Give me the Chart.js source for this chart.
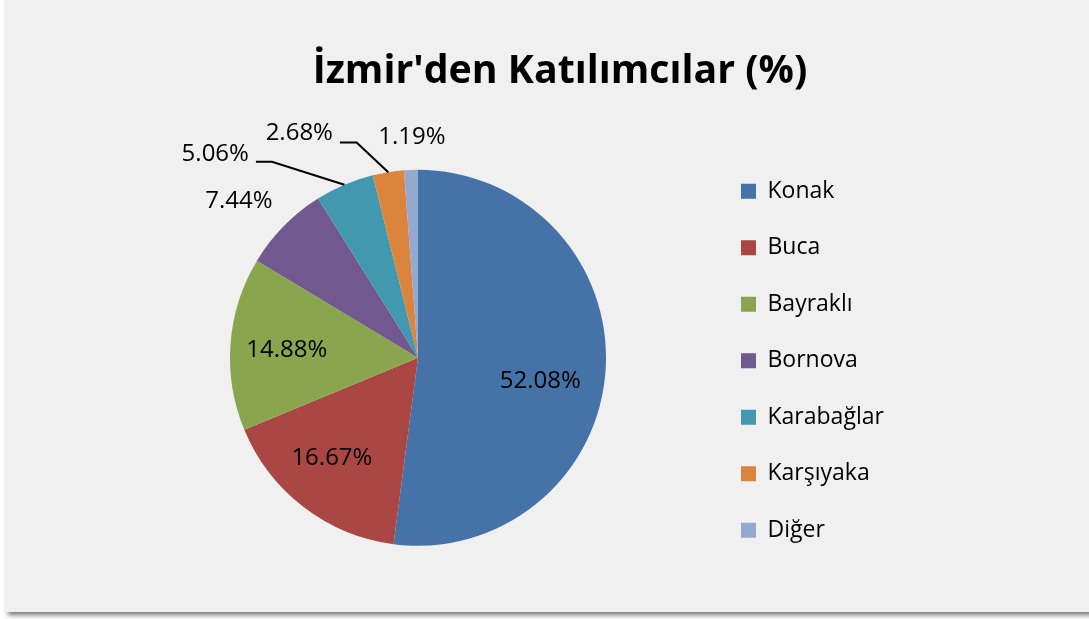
<!DOCTYPE html>
<html lang="tr">
<head>
<meta charset="utf-8">
<title>İzmir'den Katılımcılar (%)</title>
<script src="https://cdn.jsdelivr.net/npm/chart.js@4.4.1/dist/chart.umd.min.js"></script>
<style>
  html, body { margin: 0; padding: 0; background: #fff; overflow: hidden; }
  .panel { position: absolute; left: 5px; top: -10px; width: 1100px; height: 622px; background: #f0f0f0; box-shadow: 0 6px 5px -3px rgba(0, 0, 0, 0.55); }
  .chart-box { position: absolute; left: 5px; top: 0; width: 1084px; height: 612px; }
</style>
</head>
<body>
<div class="panel"></div>
<div class="chart-box"><canvas id="izmirPieChart"></canvas></div>
<script>
// Data
const districts = ['Konak', 'Buca', 'Bayraklı', 'Bornova', 'Karabağlar', 'Karşıyaka', 'Diğer'];
const shares = [52.08, 16.67, 14.88, 7.44, 5.06, 2.68, 1.19];
const sliceColors = ['#4572A7', '#AA4643', '#89A54E', '#71588F', '#4198AF', '#DB843D', '#93A9CF'];

// Where each percentage label sits, relative to the slice (r = fraction of radius)
const labelLayout = [
  { r: 0.70, dx: -9, dy: 15 },
  { r: 0.70, dx: -6, dy: -4 },
  { r: 0.70, dx: 0, dy: 2 },
  { r: 1, dx: -45, dy: -25 },
  { r: 1, leader: [-72.5, -23], tail: 16, dy: -8 },
  { r: 1, leader: [-31.6, -29.7], tail: 16.7, dy: -9 },
  { r: 1, dx: 1, dy: -33 }
];

// draws the % labels (inside / outside with leader lines)
const pieLabels = {
  id: 'pieLabels',
  afterDatasetsDraw(chart) {
    const ctx = chart.ctx;
    const meta = chart.getDatasetMeta(0);
    ctx.save();
    ctx.font = '24px "Open Sans"';
    ctx.fillStyle = '#000';
    ctx.strokeStyle = '#000';
    ctx.lineWidth = 2;
    ctx.textBaseline = 'middle';
    meta.data.forEach((arc, i) => {
      const { x, y, startAngle, endAngle, outerRadius } =
        arc.getProps(['x', 'y', 'startAngle', 'endAngle', 'outerRadius'], true);
      const mid = (startAngle + endAngle) / 2;
      const lay = labelLayout[i];
      const px = x + Math.cos(mid) * outerRadius * lay.r;
      const py = y + Math.sin(mid) * outerRadius * lay.r;
      const text = shares[i].toFixed(2) + '%';

      if (lay.leader) {
        const ex = px + lay.leader[0];
        const ey = py + lay.leader[1];
        ctx.beginPath();
        ctx.moveTo(px, py);
        ctx.lineTo(ex, ey);
        ctx.lineTo(ex - lay.tail, ey);
        ctx.stroke();
        ctx.textAlign = 'right';
        ctx.fillText(text, ex - lay.tail - 7, ey + lay.dy);
      } else {
        ctx.textAlign = 'center';
        ctx.fillText(text, px + lay.dx, py + lay.dy);
      }
    });
    ctx.restore();
  }
};

// fixed legend box width so the pie and title line up like the original
const legendWidth = {
  id: 'legendWidth',
  beforeUpdate(chart) {
    const lg = chart.legend;
    if (lg && !lg._widthPatched) {
      const fit = lg.fit;
      lg.fit = function () {
        fit.call(this);
        this.width = 284;
      };
      lg._widthPatched = true;
    }
  }
};

const ctx = document.getElementById('izmirPieChart').getContext('2d');
new Chart(ctx, {
  type: 'pie',
  data: {
    labels: districts,
    datasets: [{
      data: shares,
      backgroundColor: sliceColors,
      borderWidth: 0,
      radius: 188
    }]
  },
  options: {
    responsive: true,
    maintainAspectRatio: false,
    animation: false,
    layout: {
      padding: { left: 123.5, right: 97.5, top: 0, bottom: 0 }
    },
    plugins: {
      title: {
        display: true,
        text: "İzmir'den Katılımcılar (%)",
        color: '#000',
        font: { family: 'Open Sans', size: 39.3, weight: 'bold', lineHeight: 1.2 },
        padding: { top: 48.4, bottom: 8 }
      },
      legend: {
        position: 'right',
        fullSize: false,
        // empty legend title, only used to nudge the items down a little
        title: {
          display: true,
          text: '',
          font: { size: 1, lineHeight: 1 },
          padding: { top: 5, bottom: 0 }
        },
        labels: {
          color: '#000',
          font: { family: 'Open Sans', size: 23 },
          boxWidth: 15,
          boxHeight: 15,
          padding: 33.5
        }
      },
      tooltip: { enabled: false }
    }
  },
  plugins: [pieLabels, legendWidth]
});
</script>
</body>
</html>
